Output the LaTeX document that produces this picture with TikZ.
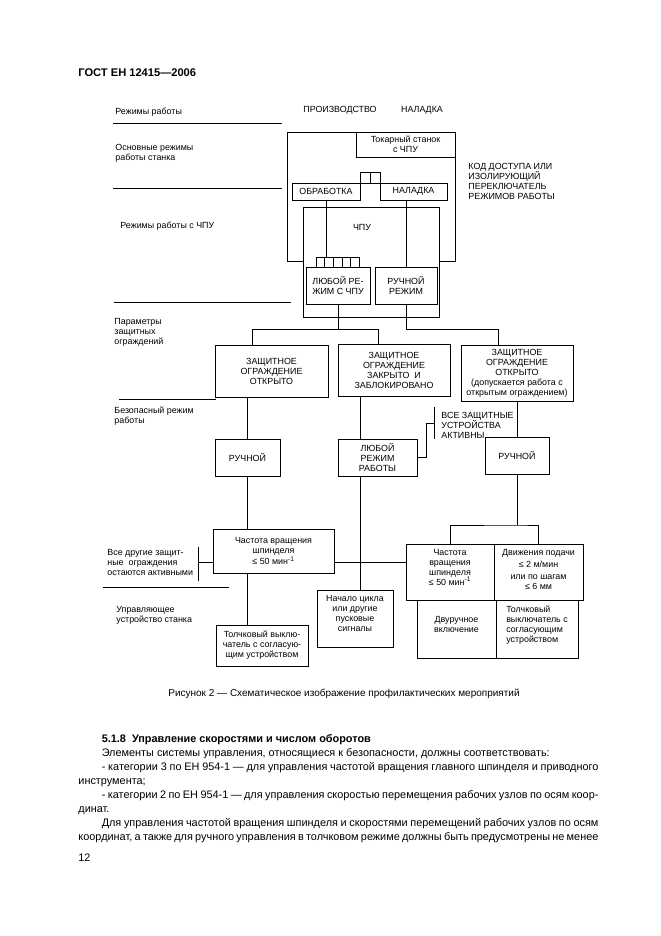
\documentclass[tikz,border=0pt]{standalone}
\usepackage{fontspec}
\setmainfont{Liberation Sans}
\usetikzlibrary{positioning}

\begin{document}
\begin{tikzpicture}[x=0.9pt, y=-0.9pt, line width=0.8pt,
			box/.style={
					rectangle,
					draw,
					inner sep=0pt,
					align=center,
					font=\fontsize{8}{9}\selectfont
				},
			size/.style 2 args={minimum width=#1*0.9pt, minimum height=#2*0.9pt},
			raised/.style={text depth=#1},
			lbl/.style={inner sep=0pt, align=left, font=\fontsize{8}{9}\selectfont},
			sep/.style={draw, line width=0.9pt},
			body/.style={inner sep=0pt, font=\fontsize{9.8}{12.5}\selectfont}
		]
		\useasboundingbox (0,0) rectangle (661,936);
		% Page head
		\node [anchor=west, inner sep=0pt, font=\bfseries\fontsize{10}{12}\selectfont] (head) at (78,73) {ГОСТ ЕН 12415—2006};
		% Left column
		\node [lbl, anchor=west] (modes) at (115,112) {Режимы работы};
		\node [lbl, anchor=west] (basic) at (115,153) {Основные режимы\\работы станка};
		\node [lbl, anchor=west] (cncmodes) at (120,226) {Режимы работы с ЧПУ};
		\node [lbl, anchor=west] (params) at (114,332) {Параметры\\защитных\\ограждений};
		\node [lbl, anchor=west] (safe) at (114,416) {Безопасный режим\\работы};
		\node [lbl, anchor=west] (others) at (107,562) {Все другие защит-\\ные\ \ ограждения\\остаются активными};
		\node [lbl, anchor=west] (ctrl) at (116,615) {Управляющее\\устройство станка};
		\draw [sep] (113,123.5) -- (282,123.5);
		\draw [sep] (113,188) -- (282,188);
		\draw [sep] (114,302) -- (291,302);
		\draw [sep] (119,399) -- (216,399);
		\draw [sep] (103,587) -- (229,587);
		% Operating modes
		\node [lbl] (prod) at (340,110) {ПРОИЗВОДСТВО};
		\node [lbl] (setup) at (422,110) {НАЛАДКА};
		\node [lbl, anchor=west] (code) at (468,181) {КОД ДОСТУПА ИЛИ\\ИЗОЛИРУЮЩИЙ\\ПЕРЕКЛЮЧАТЕЛЬ\\РЕЖИМОВ РАБОТЫ};
		\node [box, size={168}{129}] (frame) at (371,196.5) {};
		\node [box, size={99}{25}] (lathe) at (405.5,144.5) {Токарный станок\\с ЧПУ};
		\node [box, size={68}{17}] (obr) at (326,191.5) {ОБРАБОТКА};
		\node [box, size={67}{17}] (nal) at (413.5,191.5) {НАЛАДКА};
		\node [box, size={20}{11}] (sel) at (370,177.5) {};
		\draw (sel.north) -- (sel.south);
		% CNC modes
		\node [box, fill=white, size={136}{110}] (cnc) at (371,262) {};
		\node [lbl] (cnclbl) at (362,227) {ЧПУ};
		\node [box, size={43.5}{10}] (keys) at (337.75,262) {};
		\draw (324.7,257) -- (324.7,267) (333.4,257) -- (333.4,267) (342.1,257) -- (342.1,267) (350.8,257) -- (350.8,267);
		\node [box, size={64}{37}] (anycnc) at (338,285.5) {ЛЮБОЙ РЕ-\\ЖИМ С ЧПУ};
		\node [box, size={62}{37}] (manual) at (406,285.5) {РУЧНОЙ\\РЕЖИМ};
		\draw (obr.south) -- (obr.south |- keys.north);
		\draw (manual.north) -- (manual.north |- nal.south);
		% Guard states
		\node [box, size={113}{52}] (open) at (271.5,371) {ЗАЩИТНОЕ\\ОГРАЖДЕНИЕ\\ОТКРЫТО};
		\node [box, size={112}{52}] (closed) at (394,370) {ЗАЩИТНОЕ\\ОГРАЖДЕНИЕ\\ЗАКРЫТО\ \ И\\ЗАБЛОКИРОВАНО};
		\node [box, size={112}{56}] (openok) at (517,373) {ЗАЩИТНОЕ\\ОГРАЖДЕНИЕ\\ОТКРЫТО\\(допускается работа с\\открытым ограждением)};
		\coordinate (ja) at (252,329);
		\coordinate (jb) at (378,329);
		\coordinate (jc) at (498,329);
		\draw (anycnc.south) -- (anycnc.south |- ja);
		\draw (open.north -| ja) -- (ja) -- (jb) -- (closed.north -| jb);
		\draw (manual.south) |- (jc) -- (openok.north -| jc);
		% Safe modes
		\node [box, size={65}{37}] (man1) at (247.5,457.5) {РУЧНОЙ};
		\node [box, size={79}{37}] (anyop) at (377.5,457.5) {ЛЮБОЙ\\РЕЖИМ\\РАБОТЫ};
		\node [box, size={64}{37}] (man2) at (517,455.5) {РУЧНОЙ};
		\node [lbl, anchor=west] (allon) at (441,425) {ВСЕ ЗАЩИТНЫЕ\\УСТРОЙСТВА\\АКТИВНЫ};
		\coordinate (jv) at (360,500);
		\coordinate (bar1) at (434.3,423);
		\draw (man1.north) -- (man1.north |- open.south);
		\draw (closed.south -| jv) -- (anyop.north -| jv);
		\draw (man2.north) -- (man2.north |- openok.south);
		\draw (434.3,407) -- (434.3,439);
		\draw (anyop.east) -- ++(9,0) |- (bar1);
		% Machine control
		\node [box, size={121}{44}] (spd1) at (273.5,551) {Частота вращения\\шпинделя\\[1pt]≤ 50 мин\textsuperscript{-1}};
		\node [box, size={92}{41}] (jog1) at (262,645.5) {Толчковый выклю-\\чатель с согласую-\\щим устройством};
		\node [box, size={76}{57}, raised=9pt] (start) at (355,618.5) {Начало цикла\\или другие\\пусковые\\сигналы};
		\node [box, size={88}{56}, raised=9pt] (spd2) at (450,572) {Частота\\вращения\\шпинделя\\≤ 50 мин\textsuperscript{-1}};
		\node [box, size={89}{56}, raised=5pt] (feed) at (538.5,572) {Движения подачи\\[2pt]≤ 2 м/мин\\[2pt]или по шагам\\≤ 6 мм};
		\node [box, size={79}{58}, raised=9pt] (twohand) at (456.5,629) {Двуручное\\включение};
		\node [box, size={82}{58}, raised=9pt, align=left] (jog2) at (537,629) {Толчковый\\выключатель с\\согласующим\\устройством};
		\coordinate (jr) at (300,562);
		\coordinate (bar2) at (198,562);
		\coordinate (jd) at (517,525);
		\draw (man1.south) -- (man1.south |- spd1.north);
		\draw (spd1.south -| man1.south) -- (jog1.north -| man1.south);
		\draw (anyop.south -| jv) -- (start.north -| jv);
		\draw (spd1.east |- jr) -- (spd2.west |- jr);
		\draw (spd1.west |- jr) -- (bar2);
		\draw (198,547) -- (198,581);
		\draw (man2.south) -- (man2.south |- jd);
		\draw (spd2.north) |- (jd) -| (feed.north);
		% Caption and text
		\node [inner sep=0pt, font=\fontsize{9}{11}\selectfont] (caption) at (344,694) {Рисунок 2 — Схематическое изображение профилактических мероприятий};
		\node [body, anchor=north west, text width=468pt, align=justify] (text) at (78,734.5) {%
			\spaceskip=0.278em plus 0.2em minus 0.1em
			\hspace*{21pt}\textbf{5.1.8\ \ Управление скоростями и числом оборотов}\par
			\hspace*{21pt}Элементы системы управления, относящиеся к безопасности, должны соответствовать:\par
			\hspace*{21pt}- категории 3 по ЕН 954-1 — для управления частотой вращения главного шпинделя и приводного\linebreak инструмента;\par
			\hspace*{21pt}- категории 2 по ЕН 954-1 — для управления скоростью перемещения рабочих узлов по осям коор-\linebreak динат.\par
			\hspace*{21pt}Для управления частотой вращения шпинделя и скоростями перемещений рабочих узлов по осям\linebreak координат, а также для ручного управления в толчковом режиме должны быть предусмотрены не менее\parfillskip=0pt\par};
		\node [body, anchor=west] (page) at (78,858) {12};
	\end{tikzpicture}
\end{document}
